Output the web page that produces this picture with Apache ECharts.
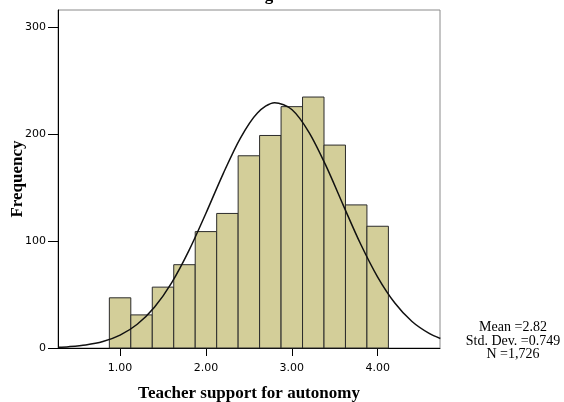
<!DOCTYPE html>
<html>
<head>
<meta charset="utf-8">
<script src="https://cdn.jsdelivr.net/npm/echarts@6/dist/echarts.min.js"></script>
<style>
html,body{margin:0;padding:0;background:#fff;}
#chart{width:564px;height:402px;}
</style>
</head>
<body>
<div id="chart"></div>
<script>
// Histogram bins (centers) and frequencies
const binCenters = [1.00, 1.25, 1.50, 1.75, 2.00, 2.25, 2.50, 2.75, 3.00, 3.25, 3.50, 3.75, 4.00];
const frequencies = [47, 31, 57, 78, 109, 126, 180, 199, 226, 235, 190, 134, 114];
const binWidth = 0.25;

// Normal curve
const curveX = [0.28, 0.4, 0.6, 0.8, 1.0, 1.2, 1.4, 1.6, 1.8, 2.0, 2.2, 2.4, 2.6, 2.8, 3.0, 3.2, 3.4, 3.6, 3.8, 4.0, 4.2, 4.4, 4.6, 4.73];
const curveY = [0.7, 1.2, 2.8, 6.0, 12.0, 22.2, 38.1, 61.0, 90.9, 126.2, 163.1, 196.4, 220.1, 229.7, 223.3, 202.0, 170.3, 133.6, 97.6, 66.4, 42.1, 24.8, 13.6, 8.9];

const xTicks = [1, 2, 3, 4];
const yTicks = [0, 100, 200, 300];
const statsLines = ['Mean =2.82', 'Std. Dev. =0.749', 'N =1,726'];
const titleText = 'Histogram';
const xName = 'Teacher support for autonomy';
const yName = 'Frequency';

const chart = echarts.init(document.getElementById('chart'), null, {renderer: 'canvas'});

const barData = binCenters.map((c, i) => [c, frequencies[i]]);
const lineData = curveX.map((x, i) => [x, curveY[i]]);

const option = {
  animation: false,
  backgroundColor: '#ffffff',
  grid: {
    left: 58, right: 124, top: 10, bottom: 54,
    outerBoundsMode: 'none',
    containLabel: false,
    show: true, borderColor: '#8a8a8a', borderWidth: 1, backgroundColor: 'transparent'
  },
  xAxis: {
    type: 'value',
    min: 0.277, max: 4.726,
    name: xName,
    nameLocation: 'middle',
    nameGap: 37,
    nameTextStyle: {fontFamily: 'Liberation Serif', fontWeight: 'bold', fontSize: 17, color: '#000'},
    axisLine: {show: true, onZero: false, lineStyle: {color: '#000', width: 1}},
    axisTick: {show: true, length: 8, customValues: xTicks, lineStyle: {color: '#000'}},
    axisLabel: {
      customValues: xTicks, margin: 15,
      fontFamily: 'DejaVu Sans', fontSize: 11, color: '#000',
      formatter: v => v.toFixed(2)
    },
    splitLine: {show: false}
  },
  yAxis: {
    type: 'value',
    min: 0, max: 316.5,
    name: yName,
    nameLocation: 'middle',
    nameGap: 32,
    nameMoveOverlap: false,
    nameRotate: 90,
    nameTextStyle: {fontFamily: 'Liberation Serif', fontWeight: 'bold', fontSize: 17, color: '#000'},
    axisLine: {show: true, onZero: false, lineStyle: {color: '#000', width: 1}},
    axisTick: {show: true, length: 10, customValues: yTicks, lineStyle: {color: '#000'}},
    axisLabel: {
      customValues: yTicks, margin: 12,
      fontFamily: 'DejaVu Sans', fontSize: 11, color: '#000'
    },
    splitLine: {show: false}
  },
  series: [
    {
      type: 'custom',
      z: 2,
      data: barData,
      renderItem: function (params, api) {
        const c = api.value(0), f = api.value(1);
        const p0 = api.coord([c - binWidth / 2, f]);
        const p1 = api.coord([c + binWidth / 2, 0]);
        return {
          type: 'rect',
          shape: {x: p0[0], y: p0[1], width: p1[0] - p0[0], height: p1[1] - p0[1]},
          style: {fill: '#D3CE99', stroke: '#2b2b2b', lineWidth: 1}
        };
      }
    },
    {
      type: 'line',
      z: 5,
      data: lineData,
      smooth: 0.3,
      showSymbol: false,
      symbol: 'none',
      lineStyle: {color: '#111', width: 1.5}
    }
  ],
  graphic: [
    {
      type: 'text',
      x: 513, y: 341,
      style: {
        text: statsLines.join('\n'),
        align: 'center',
        verticalAlign: 'middle',
        font: '14px "Liberation Serif"',
        lineHeight: 13.5,
        fill: '#000'
      }
    },
    {
      type: 'text',
      x: 226, y: -13,
      style: {
        text: titleText,
        font: 'bold 17px "Liberation Serif"',
        fill: '#000'
      }
    }
  ]
};
chart.setOption(option);
</script>
</body>
</html>
